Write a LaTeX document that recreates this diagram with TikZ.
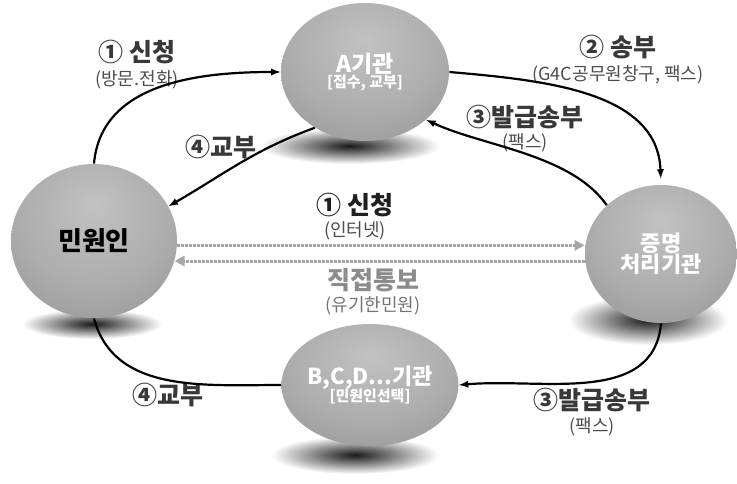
\documentclass[tikz,border=0pt]{standalone}
\usepackage{fontspec}
\setmainfont{Noto Sans CJK KR}
\usepackage{tikz}
\usetikzlibrary{arrows}
\usetikzlibrary{arrows.meta}
\usetikzlibrary{shapes}
\usetikzlibrary{shapes.geometric}
\usetikzlibrary{positioning}
\usetikzlibrary{calc}
% Grey sphere shading, highlight a little above the middle
\pgfdeclareradialshading{orb}{\pgfpoint{0bp}{12bp}}{color(0bp)=(black!24); color(22bp)=(black!32); color(40bp)=(black!42); color(52bp)=(black!56); color(66bp)=(black!64)}
\tikzset{
  % Use the older latex arrow tip
  >=latex,
  % Common styles for the diagram
  line/.style={draw, ->},
  blur/.style={shading=radial, inner color=black!90, outer color=white}
}
\begin{document}
\begin{tikzpicture}[x=1pt, y=-1pt, thick]
    % Define styles
    \tikzstyle{sphere} = [ellipse, shading=orb, text=white, font=\bfseries, align=center, inner sep=0pt]
    \tikzstyle{line} = [draw, line width=2.2pt, -latex]
    \tikzstyle{dots} = [draw, black!35, line width=3pt, dash pattern=on 2.4pt off 1.6pt, -{Triangle[length=10pt, width=10pt]}]
    \tikzstyle{tag} = [font=\bfseries\fontsize{25}{27}\selectfont, text=black!78, inner sep=0pt]
    \tikzstyle{sub} = [font=\fontsize{18}{20}\selectfont, text=black!70, inner sep=0pt]
    \useasboundingbox (0,0) rectangle (737,484);

    % Shadows under the spheres
    \shade[blur] (350,146) ellipse [x radius=90, y radius=18];
    \shade[blur] (92,324) ellipse [x radius=70, y radius=15];
    \shade[blur] (648,320) ellipse [x radius=80, y radius=25];
    \shade[blur] (355,455) ellipse [x radius=84, y radius=19];

    % Place nodes
    \node [sphere, minimum width=168pt, minimum height=138pt] (A) at (365,72)
      {\fontsize{23}{25}\selectfont A기관\\[-1pt]\fontsize{15}{17}\selectfont [접수, 교부]};
    \node [sphere, text=black, minimum width=166pt, minimum height=154pt] (min) at (94,241)
      {\fontsize{26}{28}\selectfont 민원인};
    \node [sphere, minimum width=152pt, minimum height=138pt] (jm) at (661,254)
      {\fontsize{22}{24}\selectfont 증명\\[-1pt]\fontsize{22}{24}\selectfont 처리기관};
    \node [sphere, minimum width=172pt, minimum height=122pt] (bcd) at (370,385)
      {\fontsize{22}{24}\selectfont B,C,D...기관\\[-1pt]\fontsize{15}{17}\selectfont [민원인선택]};

    % Labels
    \node [tag] (apply) at (137,52) {① 신청};
    \node [sub, below=6pt of apply] (visit) {(방문.전화)};
    \node [tag] (give) at (221,147) {④교부};
    \node [tag] (send) at (618,47) {② 송부};
    \node [sub, below=6pt of send] (g4c) {(G4C공무원창구, 팩스)};
    \node [tag] (issue) at (525,117) {③발급송부};
    \node [sub, below=4pt of issue] (fax) {(팩스)};
    \node [tag, text=black!88] (web) at (355,205) {① 신청};
    \node [sub, below=4pt of web] (net) {(인터넷)};
    \node [tag, text=black!45] (notice) at (373,280) {직접통보};
    \node [sub, text=black!55, below=4pt of notice] (limit) {(유기한민원)};
    \node [tag] (giveb) at (168,395) {④교부};
    \node [tag] (issueb) at (592,400) {③발급송부};
    \node [sub, below=5pt of issueb] (faxb) {(팩스)};

    % Draw edges
    \path [line] (min.north) to [out=85, in=180] (A.west);
    \path [line] (A.228) to [out=200, in=30] (min.25);
    \path [line, shorten >=6pt] (A.east) to [out=-5, in=92] (jm.north);
    \path [line] (jm.138) to [out=125, in=-25, looseness=0.8] (A.-38);
    \path [dots] (min.-3) -- (min.-3 -| jm.west);
    \path [dots] (min.-14 -| jm.west) -- (min.-14);
    \path [line] (jm.south) to [out=-95, in=5] (bcd.east);
    \draw [line width=2.2pt] (bcd.west) to [out=180, in=-75] (min.south);

\end{tikzpicture}
\end{document}
